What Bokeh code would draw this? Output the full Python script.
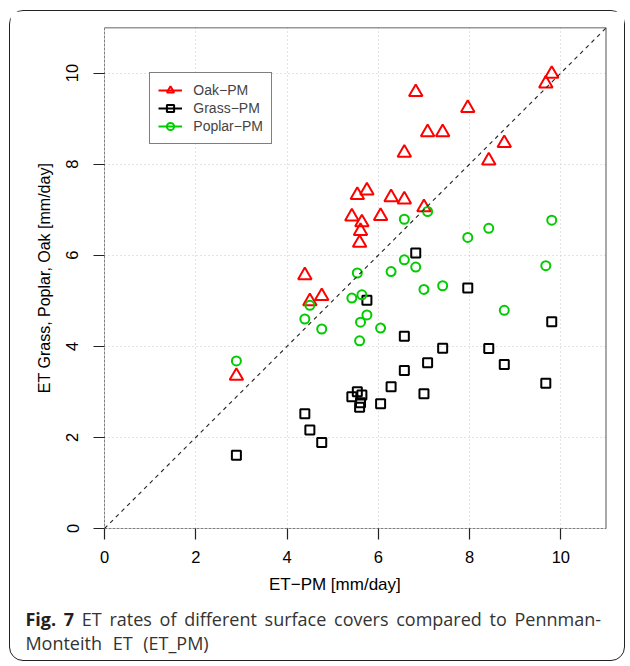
from bokeh.plotting import figure
from bokeh.layouts import column
from bokeh.models import (Range1d, Span, Legend, LegendItem, FixedTicker, Slope, Div)
from bokeh.embed import file_html
from bokeh.resources import INLINE

# ---- data ----
et_pm = [2.89, 4.39, 4.50, 4.76, 5.42, 5.54, 5.59, 5.61, 5.64, 5.75, 6.05, 6.28,
         6.57, 6.57, 6.82, 7.00, 7.08, 7.41, 7.96, 8.42, 8.76, 9.67, 9.80]
et_oak = [3.35, 5.56, 4.99, 5.10, 6.85, 7.32, 6.27, 6.53, 6.72, 7.42, 6.86, 7.27,
          8.25, 7.22, 9.58, 7.05, 8.70, 8.70, 9.23, 8.08, 8.46, 9.77, 9.98]
et_grass = [1.61, 2.52, 2.16, 1.89, 2.89, 3.00, 2.66, 2.76, 2.93, 5.01, 2.74, 3.11,
            4.22, 3.47, 6.05, 2.96, 3.64, 3.96, 5.28, 3.95, 3.60, 3.19, 4.54]
et_poplar = [3.68, 4.60, 4.90, 4.38, 5.06, 5.61, 4.12, 4.53, 5.13, 4.69, 4.40, 5.64,
             6.79, 5.90, 5.74, 5.25, 6.96, 5.33, 6.39, 6.59, 4.79, 5.77, 6.77]
series_names = ["Oak\u2212PM", "Grass\u2212PM", "Poplar\u2212PM"]
tick_values = [0, 2, 4, 6, 8, 10]
axis_max = 11

x_title = "ET\u2212PM [mm/day]"
y_title = "ET Grass, Poplar, Oak [mm/day]"
cap_bold = "Fig. 7"
cap_line1 = "ET rates of different surface covers compared to Pennman-"
cap_line2 = "Monteith ET (ET_PM)"

FONT = "Liberation Sans"
NAN = float("nan")

p = figure(frame_width=502, frame_height=501,
           min_border_left=94, min_border_right=18, min_border_top=16, min_border_bottom=40,
           x_range=Range1d(0, axis_max), y_range=Range1d(0, axis_max),
           output_backend="svg", toolbar_location=None,
           background_fill_color="white", border_fill_color="white")
p.outline_line_alpha = 0

# axes
for ax in (p.xaxis, p.yaxis):
    ax.ticker = FixedTicker(ticks=tick_values)
    ax.axis_line_alpha = 0
    ax.major_tick_out = 11
    ax.major_tick_in = 0
    ax.major_tick_line_color = "#222222"
    ax.major_tick_line_width = 1.2
    ax.minor_tick_line_alpha = 0
    ax.major_label_text_font = FONT
    ax.major_label_text_font_size = "16.5px"
    ax.major_label_text_color = "black"
p.xaxis.major_label_standoff = 11
p.yaxis.major_label_standoff = 15
p.yaxis.major_label_orientation = "vertical"
p.yaxis.axis_label = y_title
p.yaxis.axis_label_text_font = FONT
p.yaxis.axis_label_text_font_size = "16px"
p.yaxis.axis_label_text_font_style = "normal"
p.yaxis.axis_label_text_color = "black"
p.yaxis.axis_label_standoff = 11

# grid
for g in (p.xgrid, p.ygrid):
    g.ticker = FixedTicker(ticks=tick_values)
    g.grid_line_color = "#c8c8c8"
    g.grid_line_dash = "1 3"
    g.grid_line_width = 1

# frame: solid top/right, dashed bottom/left
p.add_layout(Span(location=axis_max, dimension="width", line_color="#333333", line_width=1.6))
p.add_layout(Span(location=axis_max, dimension="height", line_color="#555555", line_width=2))
p.add_layout(Span(location=0, dimension="width", line_color="black", line_width=1, line_dash="3 1"))
p.add_layout(Span(location=0, dimension="height", line_color="black", line_width=1, line_dash="3 1"))

# 1:1 line
p.add_layout(Slope(gradient=1, y_intercept=0, line_color="#222222", line_width=1.1, line_dash="4 4"))

colors = ["#ff0000", "black", "#00cc00"]
markers = ["triangle", "square", "circle"]
sizes = [13.5, 9, 9]
ys = [et_oak, et_grass, et_poplar]

items = []
for name, yv, c, m, s in zip(series_names, ys, colors, markers, sizes):
    r = p.scatter(et_pm, yv, marker=m, size=s, fill_alpha=0, line_color=c, line_width=2)
    lr = p.line([NAN], [NAN], line_color=c, line_width=2)
    items.append(LegendItem(label=name, renderers=[lr, r]))

legend = Legend(items=items, location=(45.3, 384),
                border_line_color="black", border_line_width=1,
                background_fill_color="white", background_fill_alpha=1,
                label_text_font=FONT, label_text_font_size="14px",
                glyph_width=24, glyph_height=18, label_height=18,
                padding=8, spacing=-1, label_standoff=11, margin=0)
p.add_layout(legend, "center")

html = (
    '<div style="padding-top:5.5px">'
    f'<div style="font-family:\'{FONT}\';font-size:17px;color:#000;padding-left:259px;'
    f'height:21px;line-height:21px;white-space:nowrap">{x_title}</div>'
    '<div style="margin-top:12.8px;font-family:\'Open Sans\';font-size:18px;line-height:24px;'
    'color:#333333;text-align:justify;padding-left:15.4px;padding-right:23px">'
    f'<b style="color:#231f20">{cap_bold}</b> {cap_line1}'
    f'<span style="word-spacing:6px">{cap_line2}</span></div></div>'
)
caption = Div(text=html, width=614, height=92, margin=0)

layout = column(p, caption, margin=(10, 0, 0, 9), spacing=0,
                styles={"border": "1.6px solid #222222", "border-radius": "14px",
                        "background-color": "white"})

open("out.html", "w").write(file_html(layout, INLINE))
